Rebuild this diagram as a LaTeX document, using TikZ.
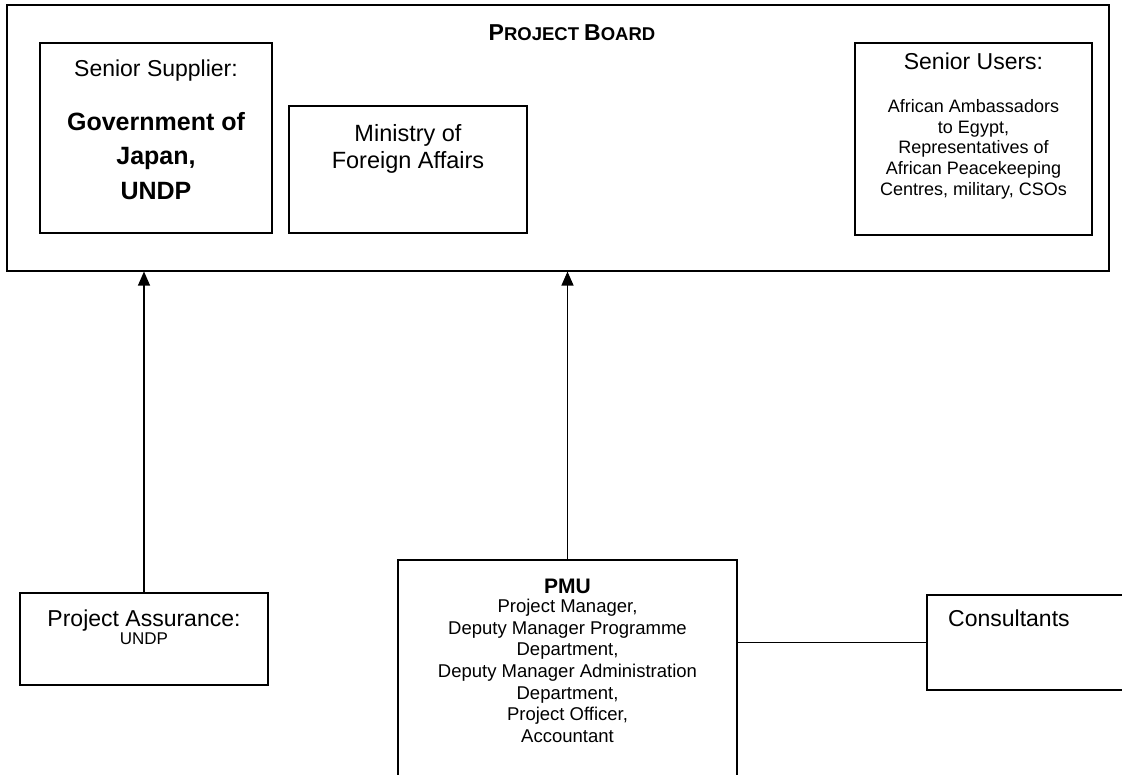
\documentclass[tikz,border=0pt]{standalone}
\usepackage{fontspec}
\setmainfont{Liberation Sans}
\usetikzlibrary{arrows.meta}
\newcommand\fsz[2]{\fontsize{#1}{#2}\selectfont}
\begin{document}
\begin{tikzpicture}[x=1pt,y=-1pt,
  box/.style={draw=black,line width=1.1pt,rectangle,inner sep=0pt},
  txt/.style={inner sep=0pt,align=center,anchor=north},
  arr/.style={line width=1.1pt,-{Triangle[width=12pt,length=14pt]}},
  conn/.style={line width=1.1pt}]
\useasboundingbox (0,0) rectangle (1122,775);
\clip (0,0) rectangle (1122,775);
\fill[white] (0,0) rectangle (1122,775);
% project board
\node[box,minimum width=1102,minimum height=266] (board) at (558,138) {};
\node[txt] (title) at (572,24) {\bfseries\fsz{23}{27}P\fsz{18.5}{27}ROJECT \fsz{23}{27}B\fsz{18.5}{27}OARD};
% senior supplier
\node[box,minimum width=232,minimum height=190] (sup) at (156,138) {};
\node[txt,font=\fsz{23}{27}] (suptxt) at (156,60) {Senior Supplier:};
\node[txt,font=\bfseries\fsz{25}{34.5}] (suptxt2) at (156,112) {Government of\\Japan,\\UNDP};
% ministry
\node[box,minimum width=238,minimum height=127] (min) at (408,169.5) {};
\node[txt,font=\fsz{23.5}{27}] (mintxt) at (408,124) {Ministry of\\Foreign Affairs};
% senior users
\node[box,minimum width=237,minimum height=192] (usr) at (973.5,139) {};
\node[txt,font=\fsz{23}{27}] (usrtxt) at (973.5,53) {Senior Users:};
\node[txt,font=\fsz{18}{20.8}] (usrtxt2) at (973.5,99) {African Ambassadors\\to Egypt,\\Representatives of\\African Peacekeeping\\Centres, military, CSOs};
% project assurance
\node[box,minimum width=248,minimum height=92] (pa) at (144,639) {};
\node[txt,font=\fsz{23}{27}] (patxt) at (144,610) {Project Assurance:};
\node[txt,font=\fsz{17}{20}] (patxt2) at (144,633) {UNDP};
% PMU
\node[box,minimum width=339,minimum height=260] (pmu) at (567.5,690) {};
\node[txt,font=\bfseries\fsz{21}{24}] (pmutxt) at (567.5,579) {PMU};
\node[txt,font=\fsz{18.5}{21.6}] (pmutxt2) at (567.5,599) {Project Manager,\\Deputy Manager Programme\\Department,\\Deputy Manager Administration\\Department,\\Project Officer,\\Accountant};
% consultants
\node[box,minimum width=220,minimum height=95] (cons) at (1037,642.5) {};
\node[inner sep=0pt,anchor=north west,font=\fsz{23}{27}] (constxt) at (948,610) {Consultants};
% connectors
\draw[arr] (pa.north) -- (pa.north |- board.south);
\draw[arr] (pmu.north) -- (pmu.north |- board.south);
\draw[conn] (pmu.east |- cons.west) -- (cons.west);
\end{tikzpicture}
\end{document}
